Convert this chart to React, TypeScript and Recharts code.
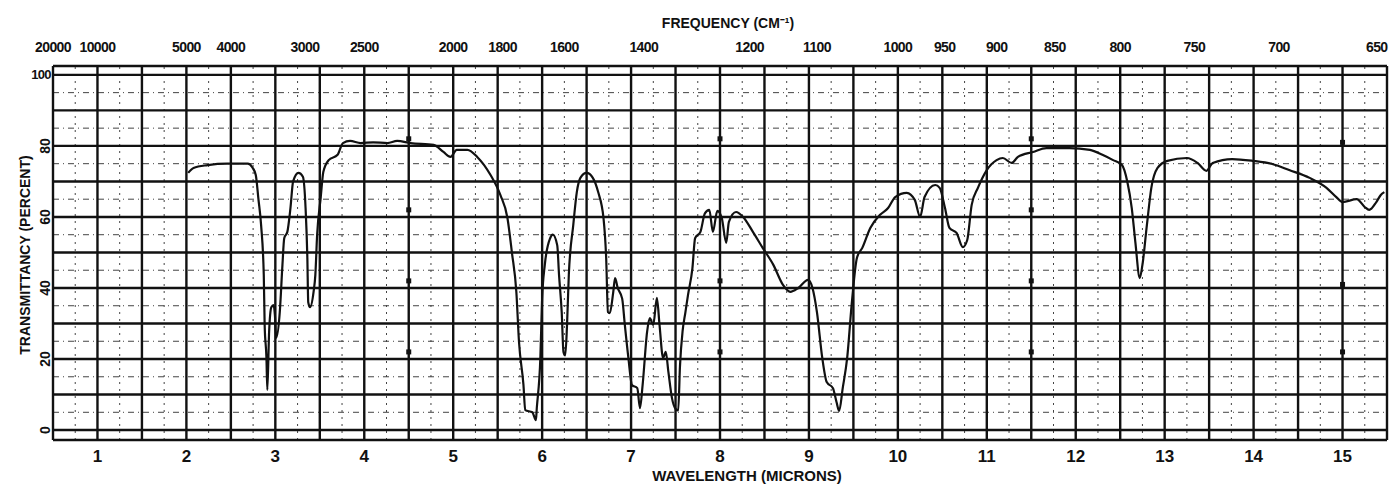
import React from "react";
import {
  ComposedChart,
  Line,
  XAxis,
  YAxis,
  ReferenceLine,
  Scatter,
} from "recharts";

// Wavelength in microns
const WAVELENGTH = [
  2.02, 2.08, 2.24, 2.46, 2.69, 2.74, 2.78, 2.81, 2.84, 2.87, 2.88, 2.9, 2.91, 2.93, 2.955, 2.98, 2.995, 3.01,
  3.05, 3.08, 3.1, 3.135, 3.17, 3.2, 3.26, 3.31, 3.34, 3.36, 3.37, 3.39, 3.43, 3.45, 3.47, 3.51, 3.54, 3.6,
  3.7, 3.76, 3.84, 3.96, 4.1, 4.26, 4.37, 4.52, 4.78, 4.89, 4.97, 5.04, 5.16, 5.27, 5.42, 5.53, 5.61, 5.66,
  5.71, 5.74, 5.79, 5.81, 5.89, 5.93, 5.94, 5.98, 6.0, 6.03, 6.09, 6.12, 6.17, 6.19, 6.22, 6.24, 6.26, 6.28,
  6.3, 6.35, 6.39, 6.43, 6.5, 6.57, 6.63, 6.69, 6.72, 6.74, 6.76, 6.8, 6.82, 6.85, 6.9, 6.93, 6.97, 7.01,
  7.07, 7.1, 7.13, 7.18, 7.21, 7.25, 7.29, 7.32, 7.36, 7.39, 7.42, 7.46, 7.5, 7.53, 7.55, 7.58, 7.61, 7.64,
  7.69, 7.72, 7.78, 7.83, 7.88, 7.92, 7.97, 8.02, 8.07, 8.1, 8.18, 8.26, 8.37, 8.48, 8.6, 8.71, 8.79, 8.88,
  8.99, 9.04, 9.09, 9.15, 9.2, 9.27, 9.31, 9.34, 9.38, 9.43, 9.48, 9.54, 9.6, 9.69, 9.8, 9.89, 9.97, 10.1,
  10.19, 10.25, 10.3, 10.42, 10.47, 10.53, 10.58, 10.66, 10.73, 10.78, 10.83, 10.9, 11.0, 11.11, 11.18, 11.28,
  11.35, 11.52, 11.67, 11.93, 12.16, 12.3, 12.42, 12.52, 12.58, 12.63, 12.67, 12.72, 12.75, 12.8, 12.85, 12.92,
  13.03, 13.25, 13.37, 13.47, 13.54, 13.76, 13.99, 14.21, 14.4, 14.63, 14.82, 14.93, 15.0, 15.16, 15.25, 15.3,
  15.38, 15.43, 15.47,
];

// Transmittance in percent
const TRANSMITTANCE = [
  72.4, 73.8, 74.6, 75, 75, 74, 71.8, 65, 57.7, 43.7, 29.6, 20.3, 11.3, 27.6, 34.6, 35.2, 32.4, 26,
  33.2, 46.5, 54, 55.8, 62.5, 70, 72.4, 71.3, 62.5, 48.5, 36, 34.6, 38.9, 43.7, 55, 65.4, 72.7, 76,
  77.5, 80.8, 81.4, 80.8, 81, 80.8, 81.4, 80.8, 80.3, 78.3, 76.9, 78.9, 78.9, 76.9, 71.8, 66.2, 59.7, 50,
  38.9, 24.8, 12.7, 5.6, 5, 2.8, 6.2, 20.3, 37, 46.5, 54, 55, 52, 43.7, 33.2, 22, 21, 29.6,
  43.7, 57.7, 67, 71, 72.4, 71, 67, 59.7, 48.5, 33.2, 32.9, 38.9, 42.8, 40, 37, 29.6, 20.3, 12.7,
  11.8, 6.2, 12.7, 27.6, 31.5, 29.6, 37.2, 29.6, 20.3, 22, 16.3, 9, 6, 5.5, 18, 28, 33, 38,
  45.6, 54, 55.8, 61, 62, 55.8, 61.7, 59.7, 52.7, 58.6, 61.4, 60, 55.8, 51.3, 46.5, 40.8, 38.9, 40,
  42.3, 40, 33.2, 20.3, 13.5, 11.8, 7.9, 5.4, 11.8, 20.3, 35.2, 48.5, 51.3, 56.9, 60.6, 62.5, 65.6, 66.8,
  64.8, 60, 65.6, 69, 68.2, 62.5, 56.9, 55.5, 51.5, 53.5, 63.4, 68.2, 73.2, 76, 76.6, 75.2,
  76.9, 78.3, 79.4, 79.4, 78.9, 77.5, 76, 74.6, 69.9, 62.5, 53, 42.8, 46.5, 57.7, 68.2, 73.8,
  75.8, 76.6, 75.2, 73, 75.2, 76.3, 75.8, 74.9, 73.2, 71, 68.2, 65.6, 64.2, 65, 62.8, 62,
  64.2, 66.2, 67,
];

// Chart-paper registration marks
const MARK_W = [4.5, 4.5, 4.5, 4.5, 8, 8, 8, 11.5, 11.5, 11.5, 11.5, 15, 15, 15];
const MARK_T = [82, 62, 42, 22, 82, 42, 22, 82, 62, 42, 22, 81, 41, 22];

const WAVELENGTH_TICKS = [1, 2, 3, 4, 5, 6, 7, 8, 9, 10, 11, 12, 13, 14, 15];
const FREQUENCY_TICKS = [
  20000, 10000, 5000, 4000, 3000, 2500, 2000, 1800, 1600, 1400, 1200, 1100, 1000, 950, 900, 850, 800, 750, 700, 650,
];
const PERCENT_TICKS = [0, 20, 40, 60, 80, 100];

const X_DOMAIN = [0.5, 15.5];
const Y_DOMAIN = [-2.8, 102.5];

const MAJOR_X = [0.5, 1, 1.5, 2, 2.5, 3, 3.5, 4, 4.5, 5, 5.5, 6, 6.5, 7, 7.5, 8, 8.5, 9, 9.5, 10, 10.5, 11, 11.5, 12, 12.5, 13, 13.5, 14, 14.5, 15, 15.5];
const MINOR_X = MAJOR_X.slice(0, -1).map((v) => v + 0.25);
const MAJOR_Y = [0, 10, 20, 30, 40, 50, 60, 70, 80, 90, 100];
const MINOR_Y = [5, 15, 25, 35, 45, 55, 65, 75, 85, 95];

const data = WAVELENGTH.map((w, i) => ({ w, t: TRANSMITTANCE[i] }));
const marks = MARK_W.map((w, i) => ({ w, t: MARK_T[i] }));

const FONT = "'Liberation Sans', Arial, sans-serif";

const BottomTick = (props: any) => {
  const { x, y, payload } = props;
  return (
    <text x={x} y={y} dy={14} textAnchor="middle" fontFamily={FONT} fontWeight={700} fontSize={17} fill="#111">
      {payload.value}
    </text>
  );
};

const TopTick = (props: any) => {
  const { x, y, payload } = props;
  const f = Math.round(10000 / payload.value);
  return (
    <text x={x} y={y} dy={-6} textAnchor="middle" fontFamily={FONT} fontWeight={700} fontSize={14} letterSpacing={-0.6} fill="#111">
      {f}
    </text>
  );
};

const LeftTick = (props: any) => {
  const { x, y, payload } = props;
  if (payload.value === 100) {
    return (
      <text x={x - 4} y={y} textAnchor="middle" dominantBaseline="central" fontFamily={FONT} fontWeight={700} fontSize={13} letterSpacing={-0.8} fill="#111">
        {payload.value}
      </text>
    );
  }
  return (
    <text
      x={x}
      y={y}
      transform={`rotate(-90, ${x}, ${y})`}
      textAnchor="middle"
      dominantBaseline="central"
      fontFamily={FONT}
      fontWeight={700}
      fontSize={14}
      fill="#111"
    >
      {payload.value}
    </text>
  );
};

const Square = (props: any) => {
  const { cx, cy } = props;
  return <rect x={cx - 2.5} y={cy - 2.5} width={5} height={5} fill="#111" />;
};

export default function App() {
  return (
    <div style={{ position: "absolute", left: 0, top: 0, width: 1391, height: 485, background: "#fff", overflow: "hidden" }}>
      <ComposedChart width={1391} height={485} data={data} margin={{ top: 0, right: 4, bottom: 0, left: 0 }}>
        <XAxis
          xAxisId="bottom"
          dataKey="w"
          type="number"
          domain={X_DOMAIN}
          ticks={WAVELENGTH_TICKS}
          interval={0}
          axisLine={false}
          tickLine={false}
          height={45}
          tick={<BottomTick />}
          allowDataOverflow
        />
        <XAxis
          xAxisId="top"
          dataKey="w"
          orientation="top"
          type="number"
          domain={X_DOMAIN}
          ticks={FREQUENCY_TICKS.map((f) => 10000 / f)}
          interval={0}
          axisLine={false}
          tickLine={false}
          height={66}
          tick={<TopTick />}
          allowDataOverflow
        />
        <YAxis
          type="number"
          domain={Y_DOMAIN}
          ticks={PERCENT_TICKS}
          interval={0}
          axisLine={false}
          tickLine={false}
          width={53}
          tick={<LeftTick />}
          allowDataOverflow
        />
        {MINOR_X.map((v) => (
          <ReferenceLine key={"mx" + v} xAxisId="bottom" x={v} stroke="#444" strokeWidth={1} strokeDasharray="2 5" />
        ))}
        {MINOR_Y.map((v) => (
          <ReferenceLine key={"my" + v} xAxisId="bottom" y={v} stroke="#444" strokeWidth={1} strokeDasharray="6 4 1 4" />
        ))}
        {MAJOR_X.map((v) => (
          <ReferenceLine key={"Mx" + v} xAxisId="bottom" x={v} stroke="#111" strokeWidth={2.4} />
        ))}
        {MAJOR_Y.map((v) => (
          <ReferenceLine key={"My" + v} xAxisId="bottom" y={v} stroke="#111" strokeWidth={2.4} />
        ))}
        <ReferenceLine xAxisId="bottom" y={Y_DOMAIN[0]} stroke="#111" strokeWidth={2.4} />
        <ReferenceLine xAxisId="bottom" y={Y_DOMAIN[1]} stroke="#111" strokeWidth={2.4} />
        <Scatter xAxisId="bottom" data={marks} dataKey="t" shape={<Square />} isAnimationActive={false} />
        <Line
          xAxisId="bottom"
          type="monotone"
          dataKey="t"
          stroke="#111"
          strokeWidth={2.2}
          dot={false}
          isAnimationActive={false}
          strokeLinejoin="round"
        />
      </ComposedChart>
      <div
        style={{
          position: "absolute",
          left: 728,
          top: 22,
          transform: "translate(-50%, -50%)",
          fontFamily: FONT,
          fontWeight: 700,
          fontSize: 14,
          whiteSpace: "nowrap",
          color: "#111",
        }}
      >
        FREQUENCY (CM⁻¹)
      </div>
      <div
        style={{
          position: "absolute",
          left: 747,
          top: 475,
          transform: "translate(-50%, -50%)",
          fontFamily: FONT,
          fontWeight: 700,
          fontSize: 15,
          whiteSpace: "nowrap",
          color: "#111",
        }}
      >
        WAVELENGTH (MICRONS)
      </div>
      <div
        style={{
          position: "absolute",
          left: 25,
          top: 255,
          transform: "translate(-50%, -50%) rotate(-90deg)",
          fontFamily: FONT,
          fontWeight: 700,
          fontSize: 14,
          whiteSpace: "nowrap",
          color: "#111",
        }}
      >
        TRANSMITTANCY (PERCENT)
      </div>
    </div>
  );
}
